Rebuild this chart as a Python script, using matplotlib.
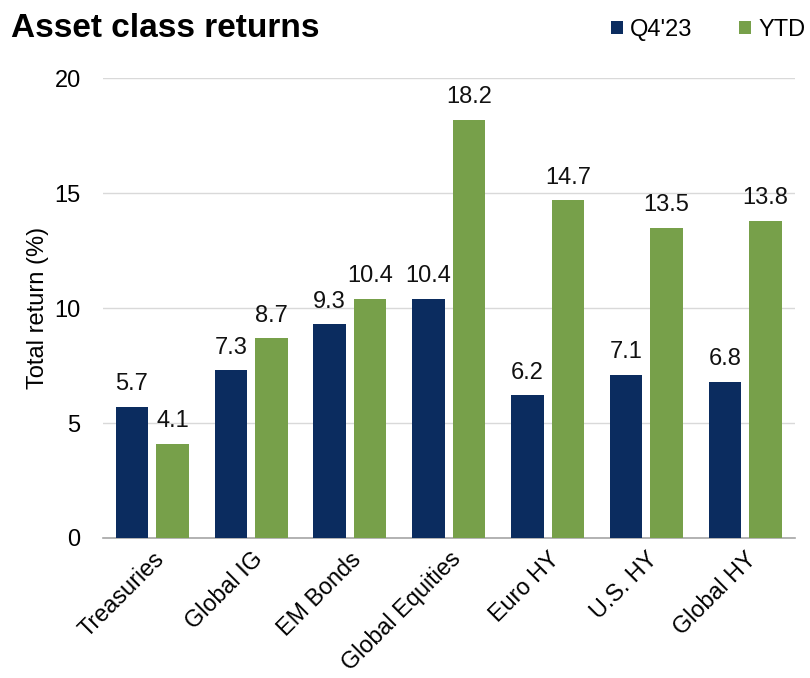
import matplotlib
matplotlib.use("Agg")
import matplotlib.pyplot as plt
import numpy as np

categories = ["Treasuries", "Global IG", "EM Bonds", "Global Equities", "Euro HY", "U.S. HY", "Global HY"]
q4_values = [5.7, 7.3, 9.3, 10.4, 6.2, 7.1, 6.8]
ytd_values = [4.1, 8.7, 10.4, 18.2, 14.7, 13.5, 13.8]
series_names = ["Q4'23", "YTD"]
yticks = [0, 5, 10, 15, 20]

plt.rcParams['font.family'] = ['Liberation Sans', 'DejaVu Sans']
navy = "#0b2c5f"
green = "#77a04a"

fig = plt.figure(figsize=(8.1, 6.78), dpi=100)
ax = fig.add_axes([0.127, 0.2065, 0.854, 0.678])

x = np.arange(len(categories))
w = 0.33
off = 0.205
b1 = ax.bar(x - off, q4_values, w, color=navy, label=series_names[0], zorder=3)
b2 = ax.bar(x + off, ytd_values, w, color=green, label=series_names[1], zorder=3)

for bars, vals in ((b1, q4_values), (b2, ytd_values)):
    for r, v in zip(bars, vals):
        ax.text(r.get_x() + r.get_width() / 2, v + 0.5, f"{v:.1f}", ha="center", va="bottom",
                fontsize=17, color="#111111")

ax.set_xlim(-0.5, len(categories) - 0.5)
ax.set_ylim(0, 20)
ax.set_yticks(yticks)
ax.set_yticklabels([str(t) for t in yticks], fontsize=17)
ax.tick_params(axis='y', length=0, pad=16)
ax.tick_params(axis='x', length=0, pad=7)
ax.set_xticks(x)
ax.set_xticklabels(categories, rotation=45, ha="right", rotation_mode="anchor", fontsize=16.8)
ax.grid(axis='y', color="#d9d9d9", linewidth=1, zorder=0)
for s in ["top", "right", "left"]:
    ax.spines[s].set_visible(False)
ax.spines["bottom"].set_color("#a6a6a6")
ax.spines["bottom"].set_linewidth(1.2)
ax.set_ylabel("Total return (%)", fontsize=17, labelpad=4)

fig.text(0.014, 0.958, "Asset class returns", fontsize=24, fontweight="bold", ha="left", va="center")
leg = fig.legend(handles=[b1, b2], labels=series_names, loc="center right", bbox_to_anchor=(1.0, 0.956),
                 ncol=2, frameon=False, fontsize=17, handlelength=0.5, handleheight=0.5,
                 handletextpad=0.3, columnspacing=2.0, borderaxespad=0.1, borderpad=0.1)

fig.savefig("out.png", dpi=100)
